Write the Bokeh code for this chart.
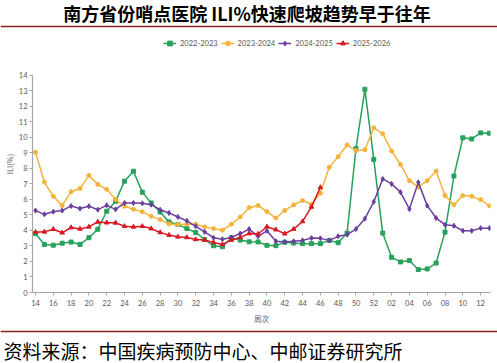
from bokeh.plotting import figure
from bokeh.models import Range1d, FixedTicker, Legend, LegendItem
from bokeh.layouts import column
from bokeh.embed import file_html
from bokeh.resources import INLINE
from bokeh.core.properties import value

title_text = "南方省份哨点医院 ILI%快速爬坡趋势早于往年"
source_text = "资料来源：中国疾病预防中心、中邮证券研究所"
x_title = "周次"
y_title = "ILI(%)"

weeks = ["14", "15", "16", "17", "18", "19", "20", "21", "22", "23", "24", "25", "26",
         "27", "28", "29", "30", "31", "32", "33", "34", "35", "36", "37", "38", "39",
         "40", "41", "42", "43", "44", "45", "46", "47", "48", "49", "50", "51", "52",
         "01", "02", "03", "04", "05", "06", "07", "08", "09", "10", "11", "12", "13"]

series_names = ["2022-2023", "2023-2024", "2024-2025", "2025-2026"]

ili_2022_2023 = [3.8, 3.1, 3.05, 3.18, 3.25, 3.1, 3.53, 4.08, 5.24, 5.88, 7.18, 7.82, 6.47,
                 5.77, 5.19, 4.55, 4.38, 4.12, 3.87, 3.42, 3.01, 2.95, 3.53, 3.38, 3.27, 3.26,
                 3.04, 3.02, 3.24, 3.19, 3.15, 3.15, 3.15, 3.36, 3.21, 3.83, 9.29, 13.1, 8.58,
                 3.83, 2.27, 1.97, 2.06, 1.48, 1.52, 1.9, 3.89, 7.51, 9.97, 9.9, 10.29, 10.27]

ili_2023_2024 = [9.04, 7.12, 6.2, 5.6, 6.5, 6.7, 7.55, 6.97, 6.65, 6.0, 5.56, 5.36, 5.2,
                 4.91, 4.7, 4.42, 4.38, 4.4, 4.4, 4.23, 4.12, 4.02, 4.4, 4.87, 5.47, 5.61,
                 5.22, 4.8, 5.29, 5.65, 5.93, 5.69, 6.4, 8.07, 8.76, 9.51, 9.14, 9.2, 10.62,
                 10.24, 9.12, 8.26, 7.21, 6.79, 7.21, 7.83, 6.25, 5.65, 6.25, 6.21, 5.99, 5.59]

ili_2024_2025 = [5.28, 5.04, 5.21, 5.28, 5.58, 5.41, 5.56, 5.34, 5.62, 5.36, 5.77, 5.77, 5.75,
                 5.66, 5.34, 5.13, 4.87, 4.62, 4.27, 3.91, 3.53, 3.44, 3.55, 3.8, 4.09, 3.62,
                 3.98, 3.3, 3.26, 3.3, 3.36, 3.51, 3.49, 3.36, 3.62, 3.73, 4.09, 4.76, 5.85,
                 7.32, 7.0, 6.47, 5.38, 7.1, 5.6, 4.8, 4.37, 4.3, 3.98, 3.98, 4.15, 4.15]

ili_2025_2026 = [3.89, 3.91, 4.08, 3.85, 4.19, 4.1, 4.23, 4.55, 4.5, 4.49, 4.27, 4.23, 4.27,
                 4.12, 3.87, 3.7, 3.59, 3.55, 3.42, 3.38, 3.23, 3.1, 3.38, 3.55, 3.8, 3.77,
                 4.24, 4.05, 3.79, 4.09, 4.58, 5.52, 6.78]

colors = ["#27A15B", "#F4B43C", "#6B3FA0", "#DB1720"]
markers = ["square", "circle", "diamond", "triangle"]
marker_sizes = [4, 4, 5, 4.5]

W = 497
RULE = "#8E1F1F"
CJK = value("Noto Sans CJK SC")
TICK_FONT = "Lato"
GRAY = "#595959"


def no_align(fig):
    try:
        fig.frame_align = False
    except Exception:
        pass


# ---------- header (title + rule) ----------
H1 = 34
header = figure(width=W, height=H1, x_range=Range1d(0, W), y_range=Range1d(H1, 0),
                output_backend="svg", toolbar_location=None, min_border=0,
                x_axis_location=None, y_axis_location=None, outline_line_color=None)
header.grid.visible = False
no_align(header)
header.text(x=[246.5], y=[12.5], text=[title_text], text_align="center", text_baseline="middle",
            text_font=CJK, text_font_style="bold", text_font_size="18px", text_color="#000000")
header.segment(x0=[0], y0=[26], x1=[W], y1=[26], line_color=RULE, line_width=1.5)

# ---------- main chart ----------
H2 = 292
FRAME_BOTTOM = 259          # px from top of main canvas
PX_PER_UNIT = 218 / 14.0
TOP_BORDER = 1
y_end = (FRAME_BOTTOM - TOP_BORDER) / PX_PER_UNIT

p = figure(width=W, height=H2, x_range=Range1d(-0.335, 51.11), y_range=Range1d(0, y_end),
           output_backend="svg", toolbar_location=None,
           min_border_left=29, min_border_right=7, min_border_top=TOP_BORDER,
           min_border_bottom=H2 - FRAME_BOTTOM)
p.grid.visible = False
p.outline_line_color = None
no_align(p)

x_pos = list(range(len(weeks)))
series = [ili_2022_2023, ili_2023_2024, ili_2024_2025, ili_2025_2026]
items = []
for name, vals, c, m, s in zip(series_names, series, colors, markers, marker_sizes):
    xs = x_pos[:len(vals)]
    r1 = p.line(xs, vals, line_color=c, line_width=1.5)
    r2 = p.scatter(xs, vals, marker=m, size=s, fill_color=c, line_color=c)
    items.append(LegendItem(label=name, renderers=[r1, r2]))

legend = Legend(items=items, orientation="horizontal", location=(131, FRAME_BOTTOM - 16),
                border_line_color=None, background_fill_alpha=0, padding=0, margin=0,
                spacing=3, glyph_width=13, glyph_height=12, label_standoff=4,
                label_height=12, label_text_font_size="7.5px", label_text_color=GRAY,
                label_text_font=TICK_FONT)
p.add_layout(legend)

xa = p.xaxis[0]
xa.ticker = FixedTicker(ticks=list(range(0, len(weeks), 2)))
xa.major_label_overrides = {i: weeks[i] for i in range(0, len(weeks), 2)}
ya = p.yaxis[0]
ya.ticker = FixedTicker(ticks=list(range(0, 15)))
ya.bounds = (0, 14)

for ax in (xa, ya):
    ax.axis_line_color = "#A6A6A6"
    ax.axis_line_width = 1.2
    ax.major_tick_line_color = "#A6A6A6"
    ax.major_tick_in = 0
    ax.major_tick_out = 3
    ax.minor_tick_line_color = None
    ax.major_label_text_font = TICK_FONT
    ax.major_label_text_font_size = "7.5px"
    ax.major_label_text_color = GRAY
    ax.axis_label_text_font = "Noto Sans CJK SC"
    ax.axis_label_text_font_size = "7.5px"
    ax.axis_label_text_color = GRAY
    ax.axis_label_text_font_style = "normal"

xa.axis_label = x_title
xa.major_label_standoff = 4
xa.axis_label_standoff = 4
ya.axis_label = y_title
ya.major_label_standoff = 2
ya.axis_label_standoff = 1

# ---------- footer (rule + source) ----------
H3 = 363 - H1 - H2
footer = figure(width=W, height=H3, x_range=Range1d(0, W), y_range=Range1d(H3, 0),
                output_backend="svg", toolbar_location=None, min_border=0,
                x_axis_location=None, y_axis_location=None, outline_line_color=None)
footer.grid.visible = False
no_align(footer)
footer.segment(x0=[0], y0=[5], x1=[W], y1=[5], line_color=RULE, line_width=1.5)
footer.text(x=[3], y=[24], text=[source_text], text_align="left", text_baseline="middle",
            text_font=CJK, text_font_size="19px", text_color="#000000")

layout = column(header, p, footer, spacing=0)
open("out.html", "w").write(file_html(layout, INLINE))
